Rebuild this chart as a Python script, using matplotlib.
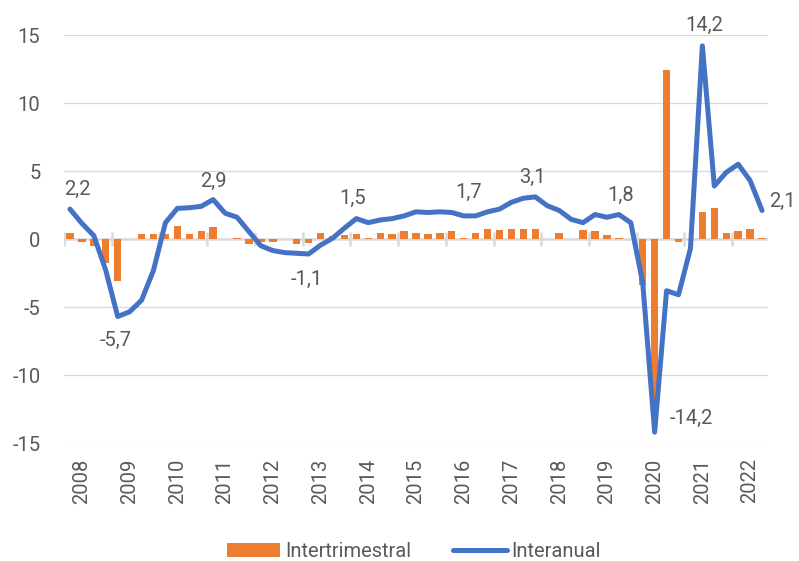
import matplotlib.pyplot as plt
import numpy as np

plt.rcParams['font.family'] = ['Roboto', 'DejaVu Sans']

# Datos trimestrales 2008T1 - 2022T3
years = ['2008', '2009', '2010', '2011', '2012', '2013', '2014', '2015',
         '2016', '2017', '2018', '2019', '2020', '2021', '2022']

intertrimestral = [0.45, -0.25, -0.5, -1.8, -3.1, 0.0, 0.35, 0.35, 0.35, 0.95,
                   0.35, 0.6, 0.85, 0.0, 0.1, -0.4, -0.2, -0.2, 0.0, -0.35,
                   -0.3, 0.45, 0.25, 0.3, 0.35, 0.1, 0.45, 0.35, 0.6, 0.45,
                   0.35, 0.45, 0.6, 0.1, 0.45, 0.75, 0.65, 0.75, 0.75, 0.75,
                   0.0, 0.45, 0.0, 0.65, 0.6, 0.3, 0.1, 0.0, -3.4, -12.0,
                   12.4, -0.25, 0.0, 2.0, 2.3, 0.45, 0.6, 0.75, 0.1]

interanual = [2.2, 1.15, 0.25, -2.3, -5.7, -5.35, -4.5, -2.3, 1.2, 2.25,
              2.3, 2.4, 2.9, 1.9, 1.6, 0.55, -0.5, -0.85, -1.0, -1.05,
              -1.1, -0.45, 0.05, 0.8, 1.5, 1.2, 1.4, 1.5, 1.7, 2.0,
              1.95, 2.0, 1.95, 1.7, 1.7, 2.0, 2.2, 2.7, 3.0, 3.1,
              2.45, 2.1, 1.45, 1.2, 1.8, 1.6, 1.8, 1.2, -3.2, -14.2,
              -3.8, -4.1, -0.7, 14.2, 3.9, 4.9, 5.5, 4.3, 2.1]

# puntos etiquetados: indice -> desplazamiento de la etiqueta (pixeles)
etiquetas = {0: (7, 20), 4: (-2, -24), 12: (0, 18), 20: (-2, -25),
             24: (-4, 20), 34: (-7, 23), 39: (-3, 19), 46: (2, 19),
             49: (37, 14), 53: (2, 20), 58: (20, 9)}

gris = '#595959'
x = np.arange(len(interanual))

fig = plt.figure(figsize=(7.99, 5.61), dpi=100)
ax = fig.add_axes([0.0801, 0.2103, 0.8811, 0.7273])

for v in range(-15, 16, 5):
    if v != 0:
        ax.axhline(v, color='#d9d9d9', lw=0.9, zorder=0)
ax.axhline(0, color='#d9d9d9', lw=1.8, zorder=1)
ax.vlines(np.arange(-0.5, len(x) - 1, 4), -0.5, 0.5, color='#d9d9d9', lw=1.8, zorder=1)

bars = ax.bar(x, intertrimestral, width=0.62, color='#ED7D31', zorder=2, label='Intertrimestral')
line, = ax.plot(x, interanual, color='#4472C4', lw=3.6, zorder=3,
                solid_joinstyle='round', solid_capstyle='round', label='Interanual')

for i, (dx, dy) in etiquetas.items():
    ax.annotate(f"{interanual[i]:.1f}".replace('.', ','), (x[i], interanual[i]),
                xytext=(dx, dy), textcoords='offset pixels', ha='center', va='center',
                fontsize=14.5, color=gris, annotation_clip=False)

ax.set_xlim(-0.5, len(x) - 0.5)
ax.set_ylim(-15, 15)
ax.set_yticks(range(-15, 16, 5))
ax.set_yticklabels([str(v) for v in range(-15, 16, 5)])
ax.set_xticks(np.arange(1, len(x), 4))
ax.set_xticklabels(years, rotation=90)
ax.tick_params(axis='y', length=0, pad=17, labelsize=14.5, labelcolor=gris)
ax.tick_params(axis='x', length=0, pad=11, labelsize=14.5, labelcolor=gris)
for s in ax.spines.values():
    s.set_visible(False)

fig.legend(handles=[bars, line], loc='center', bbox_to_anchor=(0.518, 0.0166), ncol=2,
           frameon=False, fontsize=14.5, labelcolor=gris, handlelength=2.65,
           handleheight=0.65, handletextpad=0.25, columnspacing=2.1)

fig.savefig('out.png', dpi=100)
